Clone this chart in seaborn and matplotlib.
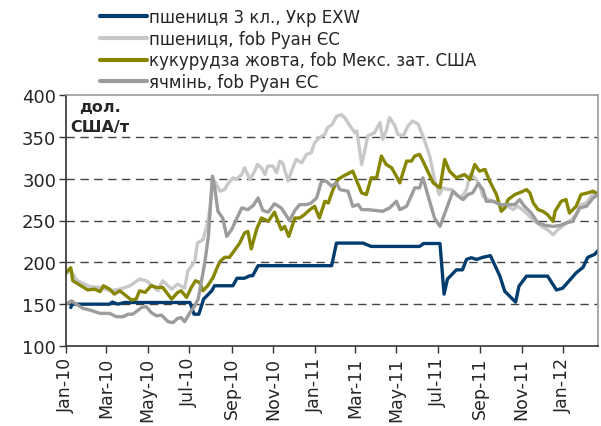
import pandas as pd
import matplotlib
matplotlib.use("Agg")
import matplotlib.pyplot as plt
import matplotlib.dates as mdates
import seaborn as sns

sns.set_style("white")
plt.rcParams['font.family'] = ['DejaVu Sans']

# --- data (USD/t) ---
wheat_ukr_dates = ["2010-01-08", "2010-01-10", "2010-03-06", "2010-03-10", "2010-03-18", "2010-03-28",
                   "2010-07-02", "2010-07-08", "2010-07-15", "2010-07-22", "2010-08-03", "2010-08-07",
                   "2010-09-03", "2010-09-09", "2010-09-20", "2010-09-28", "2010-10-02", "2010-10-10",
                   "2011-01-26", "2011-02-02", "2011-03-13", "2011-03-25", "2011-06-04", "2011-06-10",
                   "2011-07-04", "2011-07-10", "2011-07-15", "2011-07-28", "2011-08-06", "2011-08-12",
                   "2011-08-19", "2011-08-27", "2011-09-05", "2011-09-16", "2011-09-30", "2011-10-07",
                   "2011-10-23", "2011-10-28", "2011-11-08", "2011-12-09", "2011-12-22", "2011-12-31",
                   "2012-01-20", "2012-01-30", "2012-02-06", "2012-02-16", "2012-02-22"]
wheat_ukr = [146, 150, 150, 152.5, 150, 152,
             152, 138, 138, 156, 166, 172,
             172, 181, 181, 184, 184, 196,
             196, 223, 223, 219, 219, 222.5,
             222.5, 162, 180, 191, 191, 203.5,
             205.5, 203.5, 206, 208, 183.5, 165.5,
             152.5, 171.5, 183.5, 183.5, 167, 169,
             187.5, 194, 206, 209.5, 215]

wheat_eu_dates = ["2010-01-01", "2010-01-08", "2010-01-14", "2010-01-18", "2010-02-05", "2010-02-20",
                  "2010-03-06", "2010-03-21", "2010-04-05", "2010-04-19", "2010-04-29", "2010-05-08",
                  "2010-05-16", "2010-05-23", "2010-06-05", "2010-06-14", "2010-06-24", "2010-06-29",
                  "2010-07-09", "2010-07-13", "2010-07-21", "2010-07-28", "2010-07-31", "2010-08-05",
                  "2010-08-10", "2010-08-15", "2010-08-22", "2010-08-26", "2010-09-03", "2010-09-08",
                  "2010-09-16", "2010-09-20", "2010-09-28", "2010-10-05", "2010-10-09", "2010-10-15",
                  "2010-10-20", "2010-10-24", "2010-11-01", "2010-11-06", "2010-11-11", "2010-11-15",
                  "2010-11-23", "2010-11-28", "2010-12-05", "2010-12-13", "2010-12-20", "2010-12-27",
                  "2011-01-01", "2011-01-08", "2011-01-16", "2011-01-20", "2011-01-27", "2011-02-02",
                  "2011-02-09", "2011-02-14", "2011-02-22", "2011-03-01", "2011-03-04", "2011-03-11",
                  "2011-03-16", "2011-03-20", "2011-03-25", "2011-03-30", "2011-04-07", "2011-04-11",
                  "2011-04-16", "2011-04-21", "2011-04-29", "2011-05-03", "2011-05-11", "2011-05-18",
                  "2011-05-25", "2011-06-02", "2011-06-09", "2011-06-19", "2011-06-26", "2011-07-03",
                  "2011-07-08", "2011-07-16", "2011-07-21", "2011-07-28", "2011-08-04", "2011-08-12",
                  "2011-08-17", "2011-08-24", "2011-08-31", "2011-09-05", "2011-09-13", "2011-09-20",
                  "2011-09-27", "2011-10-05", "2011-10-12", "2011-10-19", "2011-10-26", "2011-11-02",
                  "2011-11-10", "2011-11-20", "2011-11-30", "2011-12-09", "2011-12-17", "2011-12-24",
                  "2012-01-03", "2012-01-13", "2012-01-20", "2012-01-27", "2012-02-04", "2012-02-11",
                  "2012-02-18", "2012-02-22"]
wheat_eu = [186, 191, 182, 178, 171, 170,
            166, 168, 172, 180, 178, 172,
            166, 178, 168, 174, 169, 190,
            201, 223, 227, 247, 263, 299,
            293, 285, 287, 293, 301, 299,
            305, 313, 299, 309, 317, 313,
            305, 315, 315, 307, 321, 319,
            297, 309, 323, 319, 329, 331,
            343, 349, 353, 361, 365, 374.5,
            376.5, 373, 363, 355, 357, 317,
            335, 351, 353, 355, 367, 347,
            357, 373, 363, 353, 351, 363,
            369, 365, 351, 327, 299, 281,
            289, 287, 287, 281, 277, 287,
            305, 301, 293, 279, 275, 273,
            271, 265, 267, 263, 267, 263,
            257, 249, 243, 239, 233, 239,
            245, 251, 257, 269, 271, 279,
            284, 282]

corn_dates = ["2010-01-01", "2010-01-08", "2010-01-11", "2010-01-19", "2010-02-02", "2010-02-12",
              "2010-02-20", "2010-02-25", "2010-03-06", "2010-03-13", "2010-03-21", "2010-04-07",
              "2010-04-14", "2010-04-19", "2010-04-27", "2010-05-06", "2010-05-14", "2010-05-23",
              "2010-06-05", "2010-06-14", "2010-06-19", "2010-06-27", "2010-07-04", "2010-07-10",
              "2010-07-16", "2010-07-21", "2010-07-28", "2010-08-05", "2010-08-10", "2010-08-15",
              "2010-08-22", "2010-08-29", "2010-09-06", "2010-09-13", "2010-09-20", "2010-09-25",
              "2010-09-30", "2010-10-08", "2010-10-15", "2010-10-25", "2010-11-03", "2010-11-13",
              "2010-11-18", "2010-11-24", "2010-12-03", "2010-12-10", "2010-12-17", "2010-12-25",
              "2011-01-01", "2011-01-08", "2011-01-16", "2011-01-21", "2011-01-28", "2011-02-04",
              "2011-02-12", "2011-02-19", "2011-02-26", "2011-03-03", "2011-03-11", "2011-03-18",
              "2011-03-25", "2011-04-02", "2011-04-09", "2011-04-16", "2011-04-24", "2011-05-01",
              "2011-05-06", "2011-05-16", "2011-05-23", "2011-05-28", "2011-06-04", "2011-06-09",
              "2011-06-16", "2011-06-24", "2011-07-04", "2011-07-11", "2011-07-18", "2011-07-28",
              "2011-08-09", "2011-08-17", "2011-08-24", "2011-08-31", "2011-09-08", "2011-09-15",
              "2011-09-25", "2011-10-02", "2011-10-07", "2011-10-12", "2011-10-22", "2011-11-03",
              "2011-11-08", "2011-11-13", "2011-11-18", "2011-11-25", "2011-12-02", "2011-12-09",
              "2011-12-17", "2011-12-20", "2011-12-29", "2012-01-05", "2012-01-10", "2012-01-20",
              "2012-01-27", "2012-02-06", "2012-02-14", "2012-02-22"]
corn = [188, 193.5, 178, 174, 167, 168,
        165, 172, 168, 162, 166, 155,
        156, 166, 164, 172, 170, 170,
        156, 164, 166, 158, 170, 178,
        176, 166, 172, 182, 192, 201,
        206, 206, 215, 223, 235, 237,
        216, 240, 253, 249, 260, 239,
        243, 231, 253, 253, 257, 263,
        267, 253, 273, 271, 287, 299,
        303, 306, 309, 299, 283, 281,
        301, 301, 327, 317, 313, 303,
        295, 321, 321, 327, 329, 321,
        309, 295, 289, 323, 309, 301,
        305, 299, 317, 309, 311, 297,
        281, 261, 265, 275, 281, 285,
        287, 283, 271, 263, 261, 257,
        249, 261, 273, 275, 259, 267,
        281, 283, 285, 280]

barley_dates = ["2010-01-01", "2010-01-09", "2010-01-16", "2010-01-26", "2010-02-05", "2010-02-20",
                "2010-03-06", "2010-03-16", "2010-03-26", "2010-04-02", "2010-04-09", "2010-04-22",
                "2010-04-29", "2010-05-06", "2010-05-14", "2010-05-21", "2010-05-31", "2010-06-07",
                "2010-06-14", "2010-06-19", "2010-06-24", "2010-07-02", "2010-07-09", "2010-07-14",
                "2010-07-19", "2010-07-24", "2010-07-29", "2010-08-01", "2010-08-04", "2010-08-07",
                "2010-08-12", "2010-08-19", "2010-08-25", "2010-09-01", "2010-09-09", "2010-09-16",
                "2010-09-25", "2010-10-03", "2010-10-10", "2010-10-17", "2010-10-25", "2010-11-03",
                "2010-11-13", "2010-11-25", "2010-12-03", "2010-12-10", "2010-12-20", "2010-12-27",
                "2011-01-04", "2011-01-11", "2011-01-18", "2011-01-26", "2011-02-02", "2011-02-07",
                "2011-02-19", "2011-02-26", "2011-03-06", "2011-03-11", "2011-03-20", "2011-04-11",
                "2011-04-21", "2011-05-01", "2011-05-06", "2011-05-16", "2011-05-28", "2011-06-04",
                "2011-06-09", "2011-06-16", "2011-06-26", "2011-07-04", "2011-07-14", "2011-07-23",
                "2011-07-31", "2011-08-07", "2011-08-14", "2011-08-21", "2011-08-29", "2011-09-05",
                "2011-09-10", "2011-09-20", "2011-09-30", "2011-10-10", "2011-10-22", "2011-10-29",
                "2011-11-05", "2011-11-15", "2011-11-25", "2011-12-07", "2011-12-17", "2011-12-27",
                "2012-01-05", "2012-01-15", "2012-01-25", "2012-02-04", "2012-02-14", "2012-02-21"]
barley = [150, 154, 150, 145, 143, 139,
          139, 135, 135, 138, 138, 146,
          147, 140, 136, 137, 129, 128,
          133, 134, 129, 140, 148, 156,
          178, 201, 231, 267, 303, 291,
          261, 253, 231, 239, 253, 265,
          263, 268, 277, 262, 260, 270,
          265, 250, 262, 269, 269, 271,
          277, 297, 297, 291, 295, 287,
          285, 267, 269, 263, 263, 261,
          265, 273, 263, 267, 289, 289,
          301, 281, 253, 243, 265, 285,
          279, 275, 281, 283, 294, 287,
          273, 273, 269, 269, 269, 275,
          267, 259, 247, 244, 243, 244,
          247, 249, 265, 267, 277, 281]

labels = ["пшениця 3 кл., Укр EXW",
          "пшениця, fob Руан ЄС",
          "кукурудза жовта, fob Мекс. зат. США",
          "ячмінь, fob Руан ЄС"]
colors = ["#003c6e", "#c8c8c8", "#868600", "#9c9c9c"]

series = [(wheat_ukr_dates, wheat_ukr), (wheat_eu_dates, wheat_eu),
          (corn_dates, corn), (barley_dates, barley)]

fig = plt.figure(figsize=(6.01, 4.27), dpi=100)
ax = fig.add_axes([66 / 601, 1 - 347 / 427, (598 - 66) / 601, (347 - 96) / 427])

for (d, v), lab, col in zip(series, labels, colors):
    df = pd.DataFrame({"date": pd.to_datetime(d), "price": v})
    sns.lineplot(data=df, x="date", y="price", ax=ax, color=col, linewidth=2.4,
                 label=lab, estimator=None, sort=False)

ax.set_ylim(100, 400)
ax.set_yticks(range(100, 401, 50))
ax.set_xlim(pd.Timestamp("2010-01-01"), pd.Timestamp("2012-02-21"))
ax.xaxis.set_major_locator(mdates.MonthLocator(bymonth=[1, 3, 5, 7, 9, 11]))
ax.xaxis.set_major_formatter(mdates.DateFormatter("%b-%y"))
ax.set_xlabel("")
ax.set_ylabel("")

# dashed horizontal gridlines
for y in range(150, 351, 50):
    ax.axhline(y, color="#444444", linestyle=(0, (6, 4)), linewidth=1.0, zorder=0)

for s in ["top", "right"]:
    ax.spines[s].set_color("#999999")
    ax.spines[s].set_linewidth(1.2)
for s in ["left", "bottom"]:
    ax.spines[s].set_color("#333333")
    ax.spines[s].set_linewidth(1.2)

ax.tick_params(axis="y", direction="out", length=5, width=1, color="#333333",
               labelsize=13, pad=2, left=True)
ax.tick_params(axis="x", direction="out", length=5, width=1, color="#333333",
               labelsize=12.5, pad=3, bottom=True, labelrotation=90)

# unit label inside the plot
ax.text((100 - 66) / 532, (347 - 100) / 251, "дол.\nСША/т", transform=ax.transAxes,
        fontsize=11.5, fontweight="bold", ha="center", va="top", linespacing=1.45)

leg = ax.legend(loc="upper left", bbox_to_anchor=(100 / 601, 1 - 9 / 427),
                bbox_transform=fig.transFigure, frameon=False, fontsize=12,
                handlelength=2.8, handletextpad=0.15, labelspacing=0.22,
                borderaxespad=0, borderpad=0)
for line in leg.get_lines():
    line.set_linewidth(3)

fig.savefig("out.png", dpi=100)
